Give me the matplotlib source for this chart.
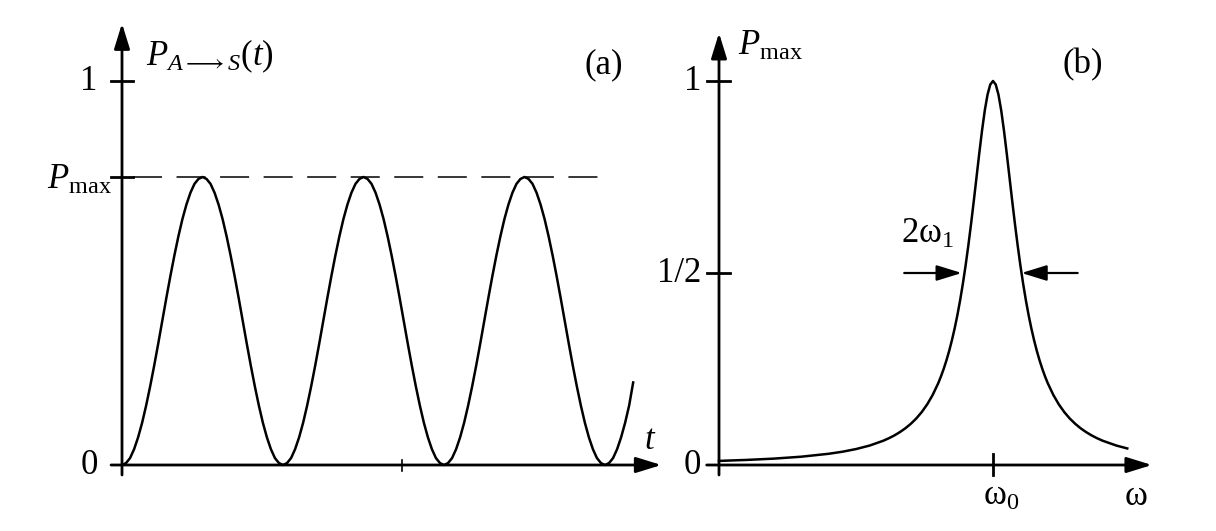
import numpy as np
import matplotlib
matplotlib.use("Agg")
import matplotlib.pyplot as plt

plt.rcParams['font.family'] = ['Liberation Serif', 'DejaVu Serif']
plt.rcParams['mathtext.fontset'] = 'custom'
plt.rcParams['mathtext.rm'] = 'Liberation Serif'
plt.rcParams['mathtext.it'] = 'Liberation Serif:italic'
plt.rcParams['mathtext.bf'] = 'Liberation Serif:bold'

# (a) transition probability vs time, sampled every 0.025 of a period
t_step = 0.025
p_t = [
    0.000, 0.005, 0.018, 0.041, 0.072, 0.110, 0.155, 0.205, 0.259, 0.316,
    0.375, 0.434, 0.491, 0.545, 0.595, 0.640, 0.678, 0.709, 0.732, 0.745,
    0.750, 0.745, 0.732, 0.709, 0.678, 0.640, 0.595, 0.545, 0.491, 0.434,
    0.375, 0.316, 0.259, 0.205, 0.155, 0.110, 0.072, 0.041, 0.018, 0.005,
    0.000, 0.005, 0.018, 0.041, 0.072, 0.110, 0.155, 0.205, 0.259, 0.316,
    0.375, 0.434, 0.491, 0.545, 0.595, 0.640, 0.678, 0.709, 0.732, 0.745,
    0.750, 0.745, 0.732, 0.709, 0.678, 0.640, 0.595, 0.545, 0.491, 0.434,
    0.375, 0.316, 0.259, 0.205, 0.155, 0.110, 0.072, 0.041, 0.018, 0.005,
    0.000, 0.005, 0.018, 0.041, 0.072, 0.110, 0.155, 0.205, 0.259, 0.316,
    0.375, 0.434, 0.491, 0.545, 0.595, 0.640, 0.678, 0.709, 0.732, 0.745,
    0.750, 0.745, 0.732, 0.709, 0.678, 0.640, 0.595, 0.545, 0.491, 0.434,
    0.375, 0.316, 0.259, 0.205, 0.155, 0.110, 0.072, 0.041, 0.018, 0.005,
    0.000, 0.005, 0.018, 0.041, 0.072, 0.110, 0.155, 0.215,
]
t = np.arange(len(p_t)) * t_step
p_max = 0.75

# (b) resonance curve, omega in units of omega_0
omega = [0.00, 0.10, 0.20, 0.30, 0.40, 0.45, 0.50, 0.55, 0.60, 0.62, 0.64,
         0.66, 0.68, 0.70, 0.72, 0.74, 0.76, 0.78, 0.80, 0.81, 0.82, 0.83,
         0.84, 0.85, 0.86, 0.87, 0.88, 0.89, 0.90, 0.91, 0.92, 0.93, 0.94,
         0.95, 0.96, 0.97, 0.98, 0.99, 1.00, 1.01, 1.02, 1.03, 1.04, 1.05,
         1.06, 1.07, 1.08, 1.09, 1.10, 1.11, 1.12, 1.13, 1.14, 1.15, 1.16,
         1.17, 1.18, 1.19, 1.20, 1.22, 1.24, 1.26, 1.28, 1.30, 1.32, 1.34,
         1.36, 1.38, 1.40, 1.45, 1.49]
p_omega = [0.0107, 0.0132, 0.0166, 0.0216, 0.0292, 0.0345, 0.0415, 0.0507,
           0.0633, 0.0697, 0.0770, 0.0856, 0.0955, 0.1073, 0.1212, 0.1379,
           0.1581, 0.1827, 0.2128, 0.2305, 0.2503, 0.2723, 0.2970, 0.3247,
           0.3556, 0.3902, 0.4289, 0.4720, 0.5196, 0.5718, 0.6283, 0.6882,
           0.7503, 0.8123, 0.8711, 0.9232, 0.9643, 0.9908, 1.0000, 0.9908,
           0.9643, 0.9232, 0.8711, 0.8123, 0.7503, 0.6882, 0.6283, 0.5718,
           0.5196, 0.4720, 0.4289, 0.3902, 0.3556, 0.3247, 0.2970, 0.2723,
           0.2503, 0.2305, 0.2128, 0.1827, 0.1581, 0.1379, 0.1212, 0.1073,
           0.0955, 0.0856, 0.0770, 0.0697, 0.0633, 0.0507, 0.0431]
omega_0 = 1.0
half_w = 0.104

fs = 25
lw_ax = 2.0
lw_curve = 1.8

fig = plt.figure(figsize=(12.16, 5.31), dpi=100)

# both panels span the whole figure, limits chosen to place the origins
ax1 = fig.add_axes([0, 0, 1, 1])
ax1.set_xlim(-122 / 161, (1216 - 122) / 161)
ax1.set_ylim((465 - 531) / 384, 465 / 384)
ax1.set_axis_off()

ax2 = fig.add_axes([0, 0, 1, 1])
ax2.patch.set_alpha(0)
ax2.set_xlim(-719 / 274, (1216 - 719) / 274)
ax2.set_ylim((465 - 531) / 384, 465 / 384)
ax2.set_axis_off()

head = '-|>,head_length=0.55,head_width=0.17'


def axis_arrow(ax, start, end):
    ax.annotate('', xy=end, xytext=start,
                arrowprops=dict(arrowstyle=head, lw=lw_ax, color='black',
                                shrinkA=0, shrinkB=0, mutation_scale=28))


# ---- panel (a)
axis_arrow(ax1, (-0.068, 0), (3.35, 0))
axis_arrow(ax1, (0, -0.026), (0, 1.15))
for yv in [1.0, p_max]:
    ax1.plot([-0.068, 0.068], [yv, yv], color='black', lw=lw_ax)
ax1.plot([1.739, 1.739], [-0.016, 0.013], color='black', lw=1.2)
ax1.plot([0.068, 3.04], [p_max, p_max], color='black', lw=1.1,
         dashes=(19, 9.5))
ax1.plot(t, p_t, color='black', lw=lw_curve)

ax1.text(-0.15, 1.0, '1', fontsize=fs, ha='right', va='center')
ax1.text(-0.15, 0.0, '0', fontsize=fs, ha='right', va='center')
ax1.text(-0.06, 0.72, r'$P_{\mathrm{max}}$', fontsize=fs, ha='right',
         va='baseline')
ax1.text(0.15, 1.042, r'$P_{A\longrightarrow S}(t)$', fontsize=fs,
         ha='left', va='baseline')
ax1.text(2.99, 1.042, '(a)', fontsize=fs, ha='center', va='center')
ax1.text(3.28, 0.065, r'$t$', fontsize=fs, ha='center', va='center')

# ---- panel (b)
axis_arrow(ax2, (-0.045, 0), (1.58, 0))
axis_arrow(ax2, (0, -0.026), (0, 1.125))
for yv in [1.0, 0.5]:
    ax2.plot([-0.045, 0.04], [yv, yv], color='black', lw=lw_ax)
ax2.plot([omega_0, omega_0], [-0.026, 0.029], color='black', lw=lw_ax)
ax2.plot(omega, p_omega, color='black', lw=lw_curve)

ax2.text(-0.065, 1.0, '1', fontsize=fs, ha='right', va='center')
ax2.text(-0.065, 0.5, '1/2', fontsize=fs, ha='right', va='center')
ax2.text(-0.065, 0.0, '0', fontsize=fs, ha='right', va='center')
ax2.text(0.07, 1.068, r'$P_{\mathrm{max}}$', fontsize=fs, ha='left',
         va='baseline')
ax2.text(1.326, 1.042, '(b)', fontsize=fs, ha='center', va='center')
ax2.text(0.965, -0.04, r'$\mathrm{\omega}_0$', fontsize=fs, ha='left',
         va='top')
ax2.text(1.52, -0.04, r'$\mathrm{\omega}$', fontsize=fs, ha='center',
         va='top')
ax2.text(0.665, 0.578, r'$2\mathrm{\omega}_1$', fontsize=fs, ha='left',
         va='baseline')

arrow_kw = dict(arrowstyle=head, lw=1.6, color='black', shrinkA=0,
                shrinkB=0, mutation_scale=28)
ax2.annotate('', xy=(omega_0 - half_w - 0.01, 0.5), xytext=(0.676, 0.5),
             arrowprops=arrow_kw)
ax2.annotate('', xy=(omega_0 + half_w, 0.5), xytext=(1.309, 0.5),
             arrowprops=arrow_kw)

fig.savefig('out.png', dpi=100)
